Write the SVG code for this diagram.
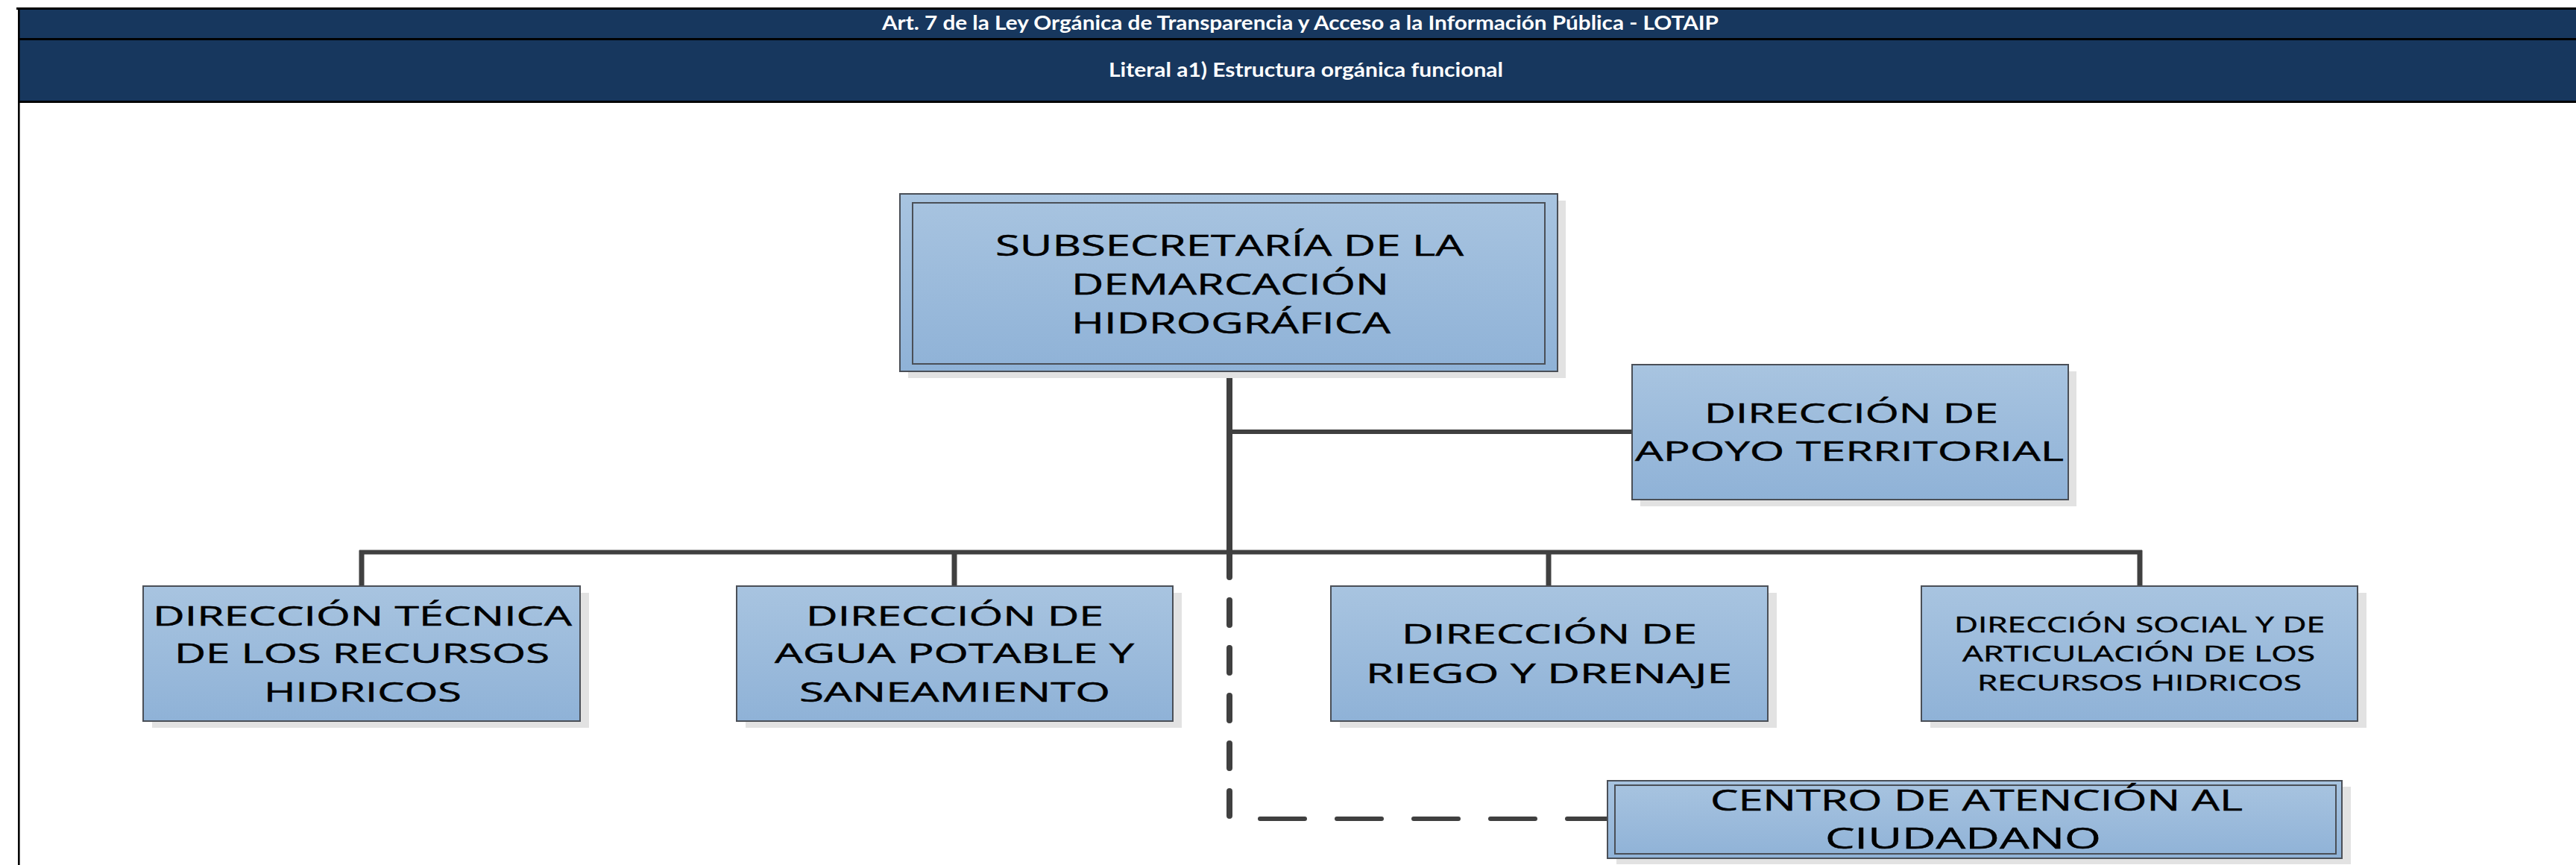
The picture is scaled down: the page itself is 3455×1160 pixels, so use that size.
<svg xmlns="http://www.w3.org/2000/svg" width="3455" height="1160" viewBox="0 0 3455 1160">
<defs>
<linearGradient id="boxfill" x1="0" y1="0" x2="0" y2="1">
<stop offset="0" stop-color="#a8c4e0"/>
<stop offset="1" stop-color="#8fb2d7"/>
</linearGradient>
<style>
.hdr{fill:#17375e}
.hline{fill:#000}
.htxt{font-family:Lato,"Open Sans","Liberation Sans",sans-serif;font-weight:bold;fill:#fff;font-size:26px}
.shadow{fill:#e2e2e2}
.box{fill:url(#boxfill);stroke:#4a4f57;stroke-width:2}
.inner{fill:none;stroke:#4a4f57;stroke-width:2}
.t{font-family:"Open Sans","Liberation Sans",sans-serif;fill:#000;stroke:#000;stroke-width:0.5}
.t36{font-size:38px}
.t34{font-size:36px}
.t27{font-size:29px}
.conn{stroke:#404040;fill:none;stroke-linecap:butt}
.dash{stroke:#404040;fill:none;stroke-linecap:round}
</style>
</defs>
<rect x="0" y="0" width="3455" height="1160" fill="#fff"/>
<g id="header">
<rect class="hdr" x="25" y="12" width="3430" height="124"/>
<rect class="hline" x="22" y="10" width="3433" height="3"/>
<rect class="hline" x="25" y="51" width="3430" height="3"/>
<rect class="hline" x="25" y="135" width="3430" height="3"/>
<rect class="hline" x="24" y="10" width="2.6" height="1150"/>
<text class="htxt" x="1183" y="40" textLength="1122" lengthAdjust="spacingAndGlyphs">Art. 7 de la Ley Orgánica de Transparencia y Acceso a la Información Pública - LOTAIP</text>
<text class="htxt" x="1487" y="103" textLength="529" lengthAdjust="spacingAndGlyphs">Literal a1) Estructura orgánica funcional</text>
</g>
<g id="connectors">
<line class="conn" x1="1649" y1="498" x2="1649" y2="744" stroke-width="8"/>
<line class="conn" x1="1649" y1="579" x2="2189" y2="579" stroke-width="6"/>
<line class="conn" x1="482" y1="740.5" x2="2873" y2="740.5" stroke-width="6"/>
<line class="conn" x1="485" y1="738" x2="485" y2="786" stroke-width="7"/>
<line class="conn" x1="1280" y1="738" x2="1280" y2="786" stroke-width="7"/>
<line class="conn" x1="2077" y1="738" x2="2077" y2="786" stroke-width="7"/>
<line class="conn" x1="2870" y1="738" x2="2870" y2="786" stroke-width="7"/>
<path class="dash" d="M1649 1094 V741" stroke-width="8" stroke-dasharray="33 31"/>
<path class="dash" d="M1690 1098 H2156" stroke-width="6" stroke-dasharray="60 43"/>
</g>
<g id="node-subsecretaria">
<rect class="shadow" x="1218" y="269" width="882" height="238"/>
<rect class="box" x="1207" y="260" width="882" height="238"/>
<rect class="inner" x="1224" y="272" width="848" height="216"/>
<text class="t t36" x="1335" y="343" textLength="628" lengthAdjust="spacingAndGlyphs">SUBSECRETARÍA DE LA</text>
<text class="t t36" x="1437" y="395" textLength="426" lengthAdjust="spacingAndGlyphs">DEMARCACIÓN</text>
<text class="t t36" x="1437" y="447" textLength="428" lengthAdjust="spacingAndGlyphs">HIDROGRÁFICA</text>
</g>
<g id="node-apoyo">
<rect class="shadow" x="2200" y="498" width="585" height="181"/>
<rect class="box" x="2189" y="489" width="585" height="181"/>
<text class="t t34" x="2286" y="567" textLength="394" lengthAdjust="spacingAndGlyphs">DIRECCIÓN DE</text>
<text class="t t34" x="2193" y="618" textLength="575" lengthAdjust="spacingAndGlyphs">APOYO TERRITORIAL</text>
</g>
<g id="node-tecnica">
<rect class="shadow" x="204" y="795" width="586" height="181"/>
<rect class="box" x="192" y="786" width="586" height="181"/>
<text class="t t34" x="205" y="839" textLength="562" lengthAdjust="spacingAndGlyphs">DIRECCIÓN TÉCNICA</text>
<text class="t t34" x="234" y="889" textLength="503" lengthAdjust="spacingAndGlyphs">DE LOS RECURSOS</text>
<text class="t t34" x="354" y="941" textLength="265" lengthAdjust="spacingAndGlyphs">HIDRICOS</text>
</g>
<g id="node-agua">
<rect class="shadow" x="1000" y="795" width="585" height="181"/>
<rect class="box" x="988" y="786" width="585" height="181"/>
<text class="t t34" x="1081" y="839" textLength="399" lengthAdjust="spacingAndGlyphs">DIRECCIÓN DE</text>
<text class="t t34" x="1039" y="889" textLength="482" lengthAdjust="spacingAndGlyphs">AGUA POTABLE Y</text>
<text class="t t34" x="1072" y="941" textLength="417" lengthAdjust="spacingAndGlyphs">SANEAMIENTO</text>
</g>
<g id="node-riego">
<rect class="shadow" x="1797" y="795" width="586" height="181"/>
<rect class="box" x="1785" y="786" width="586" height="181"/>
<text class="t t34" x="1880" y="863" textLength="396" lengthAdjust="spacingAndGlyphs">DIRECCIÓN DE</text>
<text class="t t34" x="1832" y="916" textLength="491" lengthAdjust="spacingAndGlyphs">RIEGO Y DRENAJE</text>
</g>
<g id="node-social">
<rect class="shadow" x="2589" y="795" width="585" height="181"/>
<rect class="box" x="2577" y="786" width="585" height="181"/>
<text class="t t27" x="2621" y="848" textLength="497" lengthAdjust="spacingAndGlyphs">DIRECCIÓN SOCIAL Y DE</text>
<text class="t t27" x="2632" y="887" textLength="473" lengthAdjust="spacingAndGlyphs">ARTICULACIÓN DE LOS</text>
<text class="t t27" x="2652" y="926" textLength="435" lengthAdjust="spacingAndGlyphs">RECURSOS HIDRICOS</text>
</g>
<g id="node-centro">
<rect class="shadow" x="2168" y="1055" width="985" height="104"/>
<rect class="box" x="2156" y="1047" width="985" height="104"/>
<rect class="inner" x="2166" y="1053" width="967" height="92"/>
<text class="t t36" x="2294" y="1087" textLength="714" lengthAdjust="spacingAndGlyphs">CENTRO DE ATENCIÓN AL</text>
<text class="t t36" x="2448" y="1138" textLength="370" lengthAdjust="spacingAndGlyphs">CIUDADANO</text>
</g>
</svg>
